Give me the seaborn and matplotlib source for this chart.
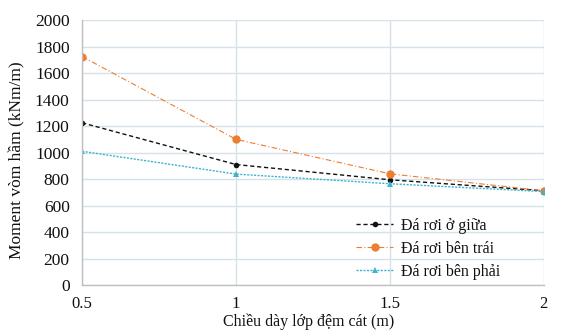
import pandas as pd
import matplotlib
matplotlib.use("Agg")
import matplotlib.pyplot as plt
import seaborn as sns

thickness = [0.5, 1.0, 1.5, 2.0]
giua = [1225, 910, 795, 712]
ben_trai = [1725, 1100, 840, 712]
ben_phai = [1010, 838, 765, 706]
series_names = ["Đá rơi ở giữa", "Đá rơi bên trái", "Đá rơi bên phải"]
x_ticks = [0.5, 1, 1.5, 2]
x_tick_labels = ["0.5", "1", "1.5", "2"]

sns.set_theme(style="whitegrid")
plt.rcParams['font.family'] = ['Liberation Serif', 'DejaVu Serif']

fig = plt.figure(figsize=(5.63, 3.30), dpi=100)
ax = fig.add_axes([0.146, 0.136, 0.82, 0.803])

styles = [
    dict(color="#111111", linestyle=(0, (3, 2)), marker="o", markersize=4, linewidth=1),
    dict(color="#ed7d31", linestyle=(0, (5, 2, 1, 2)), marker="o", markersize=6, linewidth=0.8),
    dict(color="#3cb4d0", linestyle=(0, (1.5, 1)), marker="^", markersize=5, linewidth=1),
]
for vals, name, st in zip([giua, ben_trai, ben_phai], series_names, styles):
    df = pd.DataFrame({"x": thickness, "y": vals})
    sns.lineplot(data=df, x="x", y="y", ax=ax, label=name, markeredgewidth=0, **st)

ax.set_xlim(0.5, 2.0)
ax.set_ylim(0, 2000)
ax.set_yticks(range(0, 2001, 200))
ax.set_xticks(x_ticks)
ax.set_xticklabels(x_tick_labels)
ax.grid(True, color="#d6e1ea", linewidth=1)
for side in ["top", "right"]:
    ax.spines[side].set_visible(False)
for side in ["left", "bottom"]:
    ax.spines[side].set_color("#bfbfbf")
    ax.spines[side].set_linewidth(1)
ax.tick_params(axis="both", colors="#111111", length=0)
ax.tick_params(axis="y", labelsize=12.5, pad=9)
ax.tick_params(axis="x", labelsize=12, pad=8)
ax.set_xlabel("Chiều dày lớp đệm cát (m)", fontsize=11.5, color="#111111")
ax.set_ylabel("Moment vòm hầm (kNm/m)", fontsize=12.5, color="#111111")
ax.xaxis.set_label_coords(0.49, -0.106)
ax.yaxis.set_label_coords(-0.124, 0.47)

leg = ax.legend(loc="lower right", bbox_to_anchor=(0.937, -0.035), frameon=False,
                fontsize=11.5, handlelength=2.3, handletextpad=0.5, labelspacing=0.45)
for t in leg.get_texts():
    t.set_color("#111111")

fig.savefig("out.png", dpi=100)
